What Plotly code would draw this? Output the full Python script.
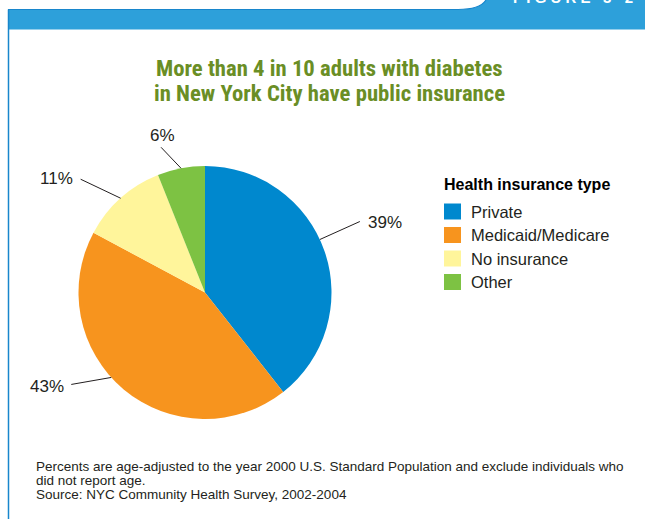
import math
import plotly.graph_objects as go

# Health insurance coverage among NYC adults with diabetes (%)
labels = ["Private", "Medicaid/Medicare", "No insurance", "Other"]
values = [39, 43, 11, 6]
colors = ["#0088CE", "#F7941E", "#FFF59B", "#7DC243"]

title_lines = ["More than 4 in 10 adults with diabetes",
               "in New York City have public insurance"]
legend_title = "Health insurance type"
notes = ["Percents are age-adjusted to the year 2000 U.S. Standard Population and exclude individuals who",
         "did not report age.",
         "Source: NYC Community Health Survey, 2002-2004"]
figure_tag = "F I G U R E   3 - 2"

W, H = 645, 519
BLUE = "#2DA0DA"
EDGE = "#1886CC"
TEXT = "#231F20"
GREEN = "#6A8E25"
SANS = "Liberation Sans, Arial, Helvetica, sans-serif"
TITLE_FONT = "Roboto Condensed, Roboto, Liberation Sans, sans-serif"

# pie box in pixels (left, top, right, bottom)
PL, PT, PR, PB = 78, 166, 332, 419
cx, cy = (PL + PR) / 2, (PT + PB) / 2
rad = min(PR - PL, PB - PT) / 2

fig = go.Figure()
fig.add_trace(go.Pie(
    labels=labels, values=values,
    marker=dict(colors=colors, line=dict(width=0)),
    sort=False, direction="clockwise", rotation=0,
    textinfo="none", hoverinfo="label+percent",
    showlegend=False,
    domain=dict(x=[PL / W, PR / W], y=[1 - PB / H, 1 - PT / H]),
))

shapes = []
annotations = []

# frame: blue header bar with a tab on the right and a thin left rule
shapes.append(dict(type="path", xref="x", yref="y",
                   path="M 8,9.5 L 458,9.5 Q 480,9.5 486,0 L 645,0 L 645,29.5 L 8,29.5 Z",
                   fillcolor=BLUE, line=dict(color=BLUE, width=0), layer="below"))
shapes.append(dict(type="path", xref="x", yref="y",
                   path="M 8,9.5 L 458,9.5 Q 480,9.5 486,0",
                   line=dict(color=EDGE, width=1.2)))
shapes.append(dict(type="line", xref="x", yref="y", x0=8.5, x1=8.5, y0=9.5, y1=519,
                   line=dict(color=EDGE, width=1.5)))
annotations.append(dict(xref="x", yref="y", x=511, y=8, xanchor="left", yanchor="bottom",
                        text=figure_tag, showarrow=False,
                        font=dict(family=SANS, size=15, color="white", weight="bold")))

# title
for i, line in enumerate(title_lines):
    annotations.append(dict(xref="x", yref="y", x=329, y=68 + 25.5 * i,
                            xanchor="center", yanchor="middle", text=line, showarrow=False,
                            font=dict(family=TITLE_FONT, size=22.7, color=GREEN, weight="bold")))

# percentage labels with leader lines, anchored on each slice edge
total = sum(values)
edge_frac = [0.46, 0.55, 0.5, 0.5]       # where along the slice the leader touches
tail_off = [(40, -18), (-40, 7), (-40, -19), (-20, -21)]
text_off = [(6, 1), (-5, 2), (-6, -1), (1, -12)]
text_anchor = ["left", "right", "right", "center"]
cum = 0
for v, f, (tx, ty), (ox, oy), anc in zip(values, edge_frac, tail_off, text_off, text_anchor):
    ang = math.radians(360 * (cum + f * v) / total)
    hx, hy = cx + rad * math.sin(ang), cy - rad * math.cos(ang)
    sx, sy = hx + tx, hy + ty
    shapes.append(dict(type="line", xref="x", yref="y", x0=hx, y0=hy, x1=sx, y1=sy,
                       line=dict(color=TEXT, width=1)))
    annotations.append(dict(xref="x", yref="y", x=sx + ox, y=sy + oy, xanchor=anc,
                            yanchor="middle", text=f"{v}%", showarrow=False,
                            font=dict(family=SANS, size=17, color=TEXT)))
    cum += v

# legend
annotations.append(dict(xref="x", yref="y", x=442, y=184.5, xanchor="left", yanchor="middle",
                        text=f"<b>{legend_title}</b>", showarrow=False,
                        font=dict(family=SANS, size=16, color="#000000")))
for i, (lab, col) in enumerate(zip(labels, colors)):
    yc = 211.5 + 23.5 * i
    shapes.append(dict(type="rect", xref="x", yref="y", x0=444, x1=461, y0=yc - 8, y1=yc + 8,
                       fillcolor=col, line=dict(width=0)))
    annotations.append(dict(xref="x", yref="y", x=469, y=yc, xanchor="left", yanchor="middle",
                            text=lab, showarrow=False,
                            font=dict(family=SANS, size=16.5, color=TEXT)))

# footnotes
for i, line in enumerate(notes):
    annotations.append(dict(xref="x", yref="y", x=34, y=466 + 14 * i, xanchor="left",
                            yanchor="middle", text=line, showarrow=False,
                            font=dict(family=SANS, size=13.5, color=TEXT)))

fig.update_layout(
    width=W, height=H,
    margin=dict(l=0, r=0, t=0, b=0),
    paper_bgcolor="white", plot_bgcolor="white",
    xaxis=dict(range=[0, W], visible=False, fixedrange=True),
    yaxis=dict(range=[H, 0], visible=False, fixedrange=True),
    shapes=shapes, annotations=annotations,
    showlegend=False,
)

fig.write_html("out.html")
